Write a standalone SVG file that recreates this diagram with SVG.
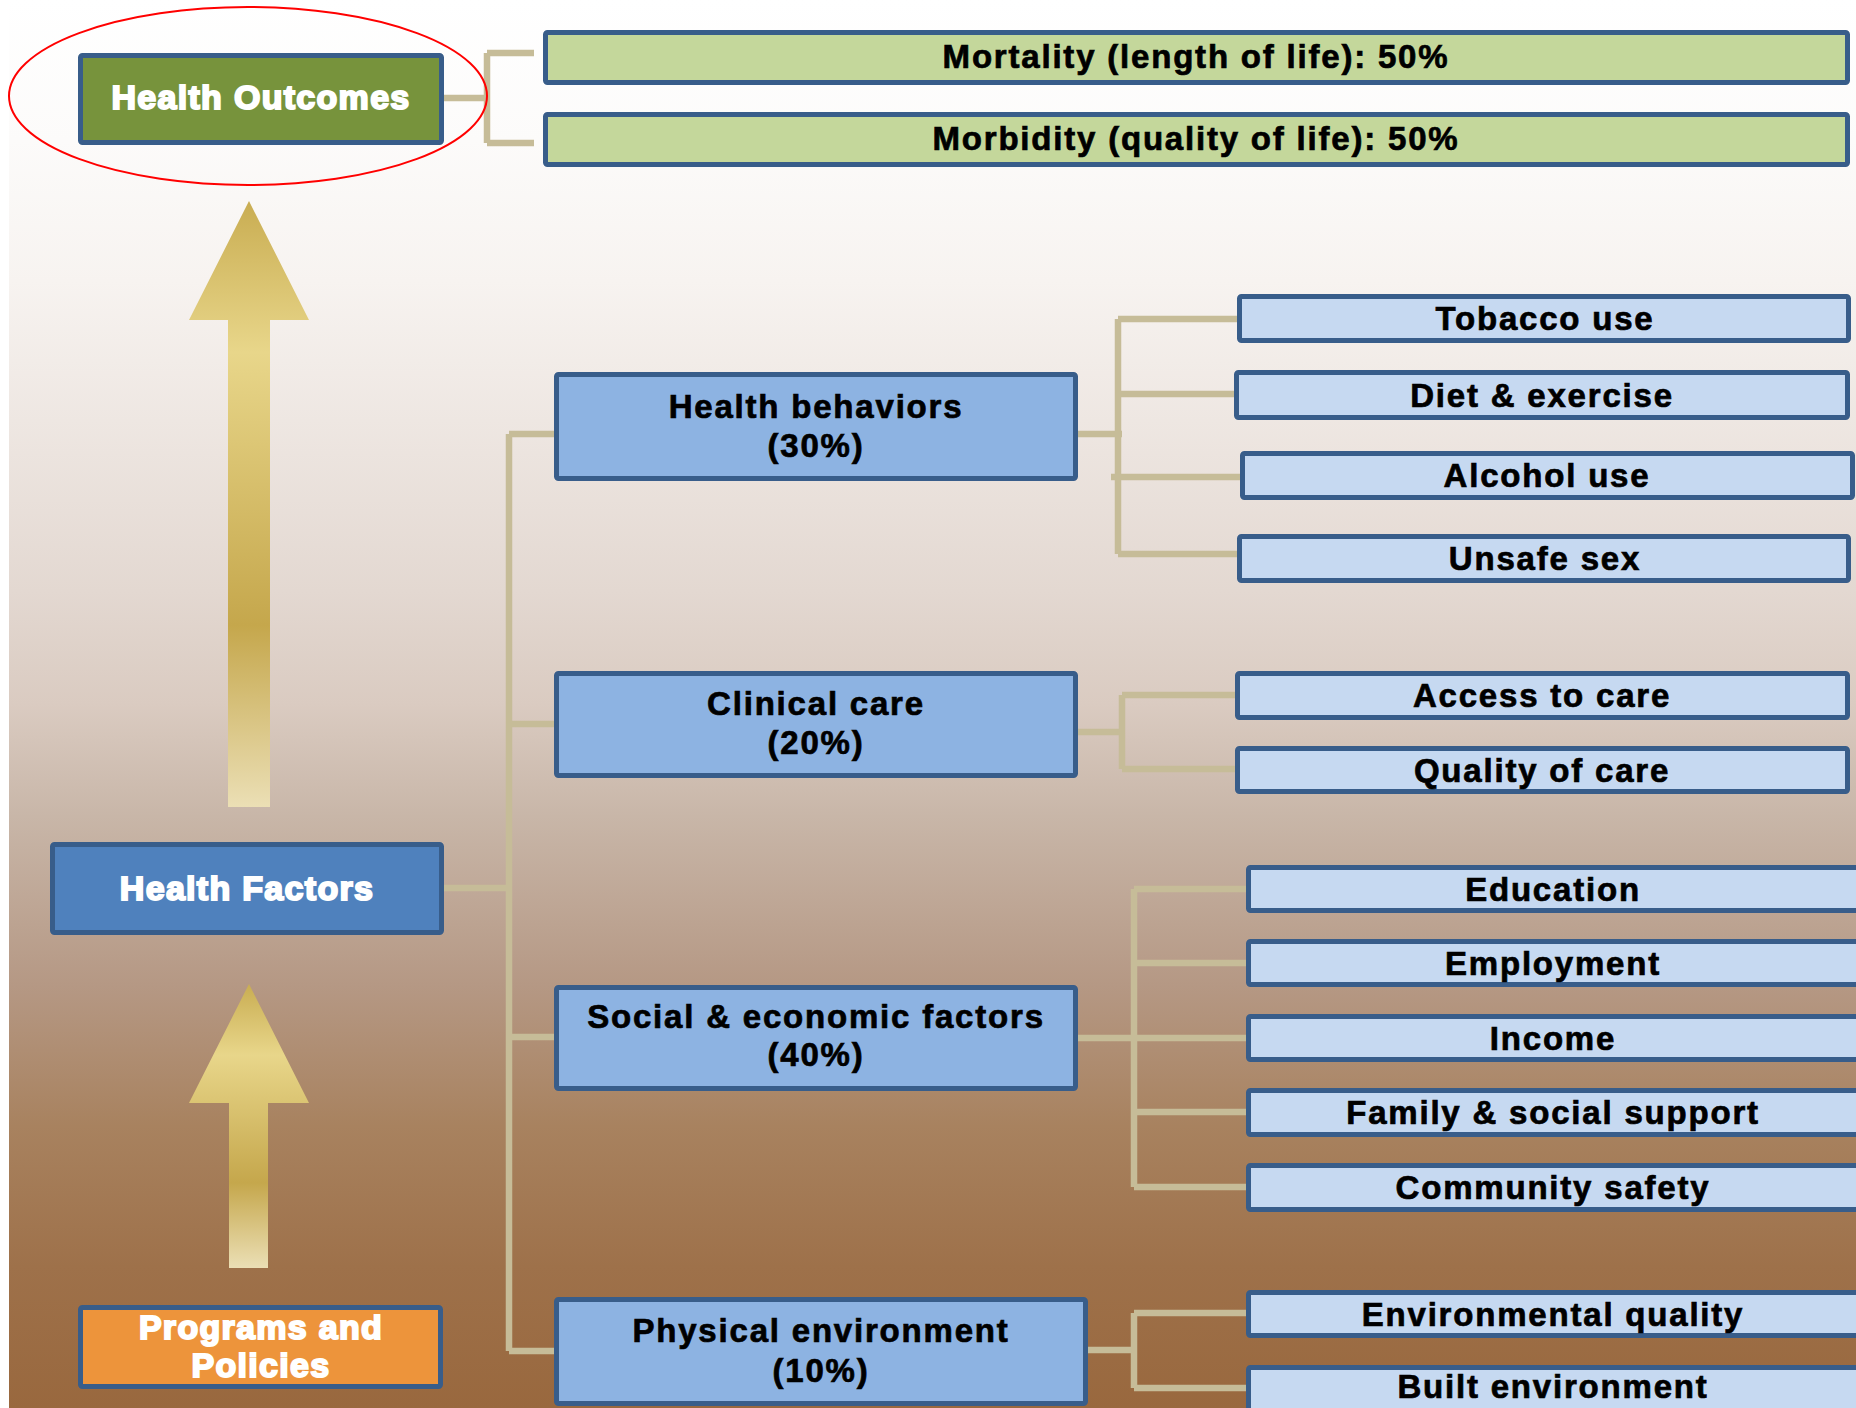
<svg xmlns="http://www.w3.org/2000/svg" width="1856" height="1408" viewBox="0 0 1856 1408">
<defs>
<linearGradient id="bg" x1="0" y1="0" x2="0" y2="1">
<stop offset="0" stop-color="#ffffff"/>
<stop offset="0.1" stop-color="#fcfbfa"/>
<stop offset="0.2" stop-color="#f7f3f0"/>
<stop offset="0.42" stop-color="#e3d8d1"/>
<stop offset="0.5" stop-color="#dacbc1"/>
<stop offset="0.58" stop-color="#c8b6a8"/>
<stop offset="0.7" stop-color="#b59884"/>
<stop offset="0.8" stop-color="#a8825f"/>
<stop offset="0.9" stop-color="#9e714a"/>
<stop offset="1" stop-color="#99683e"/>
</linearGradient>
<linearGradient id="arr" x1="0" y1="0" x2="0" y2="1">
<stop offset="0" stop-color="#c9ad52"/>
<stop offset="0.25" stop-color="#e8d68a"/>
<stop offset="0.7" stop-color="#c5a74c"/>
<stop offset="1" stop-color="#ebdfb5"/>
</linearGradient>
<style>
.box{stroke:#385d8a;stroke-width:5}
.green{fill:#c4d79b}
.mid{fill:#8db3e2}
.leaf{fill:#c6d9f1}
.t{font-family:"Liberation Sans",Arial,sans-serif;font-weight:bold;font-size:33px;fill:#000;stroke:#000;stroke-width:0.7;text-anchor:middle;letter-spacing:1.8px}
.w{font-family:"Liberation Sans",Arial,sans-serif;font-weight:bold;font-size:34px;fill:#fff;stroke:#fff;stroke-width:2;text-anchor:middle;letter-spacing:1.3px}
.conn{fill:none;stroke:#c6bc98;stroke-width:6.5}
</style>
</defs>
<rect x="0" y="0" width="1856" height="1408" fill="#ffffff"/>
<rect x="9" y="0" width="1847" height="1408" fill="url(#bg)"/>

<g id="arrows">
<polygon points="249,201 309,320 270,320 270,807 228,807 228,320 189,320" fill="url(#arr)"/>
<polygon points="249,984 309,1103 268,1103 268,1268 229,1268 229,1103 189,1103" fill="url(#arr)"/>
</g>

<g id="connectors" class="conn">
<path d="M444 98 H487 M487 53 V143 M487 53 H534 M487 143 H534"/>
<path d="M509 434 V1351 M509 434 H554 M509 724 H554 M444 888 H509 M509 1037 H554 M509 1351 H555"/>
<path d="M1078 434 H1122 M1118 319 V554 M1118 319 H1240 M1118 394 H1235 M1111 477 H1243 M1118 554 H1238"/>
<path d="M1078 732 H1122 M1122 695 V769 M1122 695 H1236 M1122 769 H1236"/>
<path d="M1078 1038 H1134 M1134 889 V1187 M1134 889 H1247 M1134 963 H1247 M1134 1038 H1247 M1134 1112 H1247 M1134 1187 H1247"/>
<path d="M1088 1350 H1134 M1134 1313 V1388 M1134 1313 H1246 M1134 1388 H1246"/>
</g>

<g id="health-outcomes">
<rect class="box" x="80.5" y="55.5" width="361" height="87" rx="2" fill="#77933c"/>
<text class="w" x="261" y="109">Health Outcomes</text>
</g>
<g id="mortality">
<rect class="box green" x="545.5" y="32.5" width="1302" height="50" rx="2"/>
<text class="t" x="1196" y="68">Mortality (length of life): 50%</text>
</g>
<g id="morbidity">
<rect class="box green" x="545.5" y="114.5" width="1302" height="50" rx="2"/>
<text class="t" x="1196" y="150">Morbidity (quality of life): 50%</text>
</g>

<g id="health-factors">
<rect class="box" x="52.5" y="844.5" width="389" height="88" rx="2" fill="#4f81bd"/>
<text class="w" x="247" y="900">Health Factors</text>
</g>
<g id="programs">
<rect class="box" x="80.5" y="1307.5" width="360" height="79" rx="2" fill="#ed943b"/>
<text class="w" x="261" y="1339">Programs and</text>
<text class="w" x="261" y="1377">Policies</text>
</g>

<g id="health-behaviors">
<rect class="box mid" x="556.5" y="374.5" width="519" height="104" rx="2"/>
<text class="t" x="816" y="418">Health behaviors</text>
<text class="t" x="816" y="457">(30%)</text>
</g>
<g id="clinical-care">
<rect class="box mid" x="556.5" y="673.5" width="519" height="102" rx="2"/>
<text class="t" x="816" y="715">Clinical care</text>
<text class="t" x="816" y="754">(20%)</text>
</g>
<g id="social-economic">
<rect class="box mid" x="556.5" y="987.5" width="519" height="101" rx="2"/>
<text class="t" x="816" y="1028">Social &amp; economic factors</text>
<text class="t" x="816" y="1066">(40%)</text>
</g>
<g id="physical-environment">
<rect class="box mid" x="556.5" y="1299.5" width="529" height="104" rx="2"/>
<text class="t" x="821" y="1342">Physical environment</text>
<text class="t" x="821" y="1382">(10%)</text>
</g>

<g id="tobacco">
<rect class="box leaf" x="1239.5" y="296.5" width="609" height="44" rx="2"/>
<text class="t" x="1545" y="330">Tobacco use</text>
</g>
<g id="diet">
<rect class="box leaf" x="1236.5" y="372.5" width="611" height="45" rx="2"/>
<text class="t" x="1542" y="406.5">Diet &amp; exercise</text>
</g>
<g id="alcohol">
<rect class="box leaf" x="1242.5" y="453.5" width="610" height="44" rx="2"/>
<text class="t" x="1547" y="487">Alcohol use</text>
</g>
<g id="unsafe-sex">
<rect class="box leaf" x="1239.5" y="536.5" width="609" height="44" rx="2"/>
<text class="t" x="1545" y="570">Unsafe sex</text>
</g>
<g id="access">
<rect class="box leaf" x="1237.5" y="673.5" width="610" height="44" rx="2"/>
<text class="t" x="1542" y="707">Access to care</text>
</g>
<g id="quality">
<rect class="box leaf" x="1237.5" y="748.5" width="610" height="43" rx="2"/>
<text class="t" x="1542" y="781.5">Quality of care</text>
</g>
<g id="education">
<rect class="box leaf" x="1248.5" y="867.5" width="611" height="43" rx="2"/>
<text class="t" x="1553" y="900.5">Education</text>
</g>
<g id="employment">
<rect class="box leaf" x="1248.5" y="941.5" width="611" height="43" rx="2"/>
<text class="t" x="1553" y="974.5">Employment</text>
</g>
<g id="income">
<rect class="box leaf" x="1248.5" y="1016.5" width="611" height="43" rx="2"/>
<text class="t" x="1553" y="1049.5">Income</text>
</g>
<g id="family">
<rect class="box leaf" x="1248.5" y="1090.5" width="611" height="44" rx="2"/>
<text class="t" x="1553" y="1124">Family &amp; social support</text>
</g>
<g id="community">
<rect class="box leaf" x="1248.5" y="1165.5" width="611" height="44" rx="2"/>
<text class="t" x="1553" y="1199">Community safety</text>
</g>
<g id="environmental-quality">
<rect class="box leaf" x="1248.5" y="1292.5" width="611" height="43" rx="2"/>
<text class="t" x="1553" y="1325.5">Environmental quality</text>
</g>
<g id="built-environment">
<rect class="box leaf" x="1248.5" y="1367.5" width="611" height="60" rx="2"/>
<text class="t" x="1553" y="1398">Built environment</text>
</g>

<ellipse id="highlight" cx="248" cy="96" rx="239" ry="89" fill="none" stroke="#ff0000" stroke-width="2"/>
</svg>
